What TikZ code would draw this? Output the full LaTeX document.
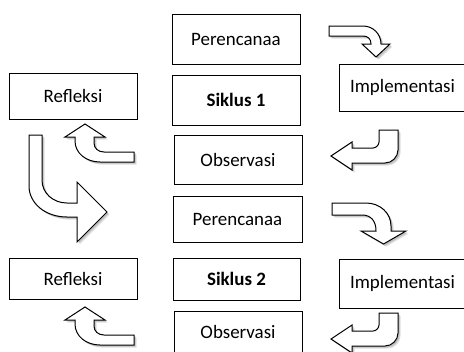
\documentclass[tikz,border=0pt]{standalone}
\usepackage{fontspec}
\setmainfont{Carlito}
\newcommand\shadarrow[1]{%
  \fill[gray!25, xshift=2.6bp, yshift=-2.6bp] #1;
  \fill[gray!50, xshift=1.6bp, yshift=-1.6bp] #1;
  \draw[arrstyle] #1;}
\begin{document}
\begin{tikzpicture}[x=1bp, y=-1bp,
  box/.style={draw, line width=0.9bp, minimum width=128bp, inner sep=0pt,
              font=\fontsize{19}{22}\selectfont},
  arrstyle/.style={draw=black, fill=white, line width=1bp, line join=miter}]
\useasboundingbox (0,0) rectangle (464,351);
\clip (0,0) rectangle (464,351);

% boxes
\node[box, minimum height=50bp] (p1) at (236,39) {Perencanaa};
\node[box, minimum height=50bp] (s1) at (236,100) {\bfseries Siklus 1};
\node[box, minimum height=49bp] (o1) at (238,159.5) {Observasi};
\node[box, minimum height=46bp, minimum width=129bp] (p2) at (237.5,219) {Perencanaa};
\node[box, minimum height=42bp, minimum width=127bp] (s2) at (236.5,279) {\bfseries Siklus 2};
\node[box, minimum height=42bp] (o2) at (238,332) {Observasi};
\node[box, minimum height=46bp] (r1) at (73,96) {Refleksi};
\node[box, minimum height=41bp] (r2) at (73,278.5) {Refleksi};
\node[box, minimum height=47bp, minimum width=127bp] (i1) at (402.5,87.5) {Implementasi};
\node[box, minimum height=49bp, minimum width=127bp] (i2) at (402.5,283.5) {Implementasi};

% arrow A : Perencanaa 1 -> Implementasi 1
\shadarrow{(329,26) -- (363,26) .. controls (373,26) and (381,34) .. (381,44)
  -- (390,44) -- (376,57) -- (362,44) -- (371,44)
  .. controls (371,39) and (368,36) .. (363,36) -- (329,36) -- cycle}

% arrow E : Perencanaa 2 -> Implementasi 2
\shadarrow{(332,203) -- (366,203) .. controls (380,203) and (391,213) .. (391,226)
  -- (391,231) -- (406,231) -- (383.5,244) -- (361,231) -- (376,231)
  .. controls (376,221) and (371,215) .. (362,215) -- (332,215) -- cycle}

% arrow B : Implementasi 1 -> Observasi 1
\shadarrow{(379,130) -- (398,130) -- (398,150) .. controls (398,157) and (392,163) .. (385,163)
  -- (352,163) -- (352,170) -- (331,156) -- (352,142) -- (352,148)
  -- (373,148) .. controls (376,148) and (379,145) .. (379,142) -- cycle}

% arrow F : Implementasi 2 -> Observasi 2
\begin{scope}[yshift=-183bp]
\shadarrow{(379,130) -- (398,130) -- (398,150) .. controls (398,157) and (392,163) .. (385,163)
  -- (352,163) -- (352,170) -- (331,156) -- (352,142) -- (352,148)
  -- (373,148) .. controls (376,148) and (379,145) .. (379,142) -- cycle}
\end{scope}

% arrow C : Observasi 1 -> Refleksi 1
\shadarrow{(134,152) -- (104,152) .. controls (98,152) and (94,148) .. (94,143)
  -- (94,137) -- (105,137) -- (85,124) -- (65,137) -- (75,137) -- (75,141)
  .. controls (75,153) and (86,162) .. (100,162) -- (134,162) -- cycle}

% arrow G : Observasi 2 -> Refleksi 2
\begin{scope}[yshift=-183bp]
\shadarrow{(134,152) -- (104,152) .. controls (98,152) and (94,148) .. (94,143)
  -- (94,137) -- (105,137) -- (85,124) -- (65,137) -- (75,137) -- (75,141)
  .. controls (75,153) and (86,162) .. (100,162) -- (134,162) -- cycle}
\end{scope}

% arrow D : Refleksi 1 -> Perencanaa 2
\shadarrow{(29,135) -- (42,135) -- (42,180) .. controls (42,193) and (53,203) .. (67,203)
  -- (77,203) -- (77,182) -- (107,212) -- (77,242) -- (77,217) -- (67,217)
  .. controls (45,217) and (29,203) .. (29,186) -- cycle}
\end{tikzpicture}
\end{document}
